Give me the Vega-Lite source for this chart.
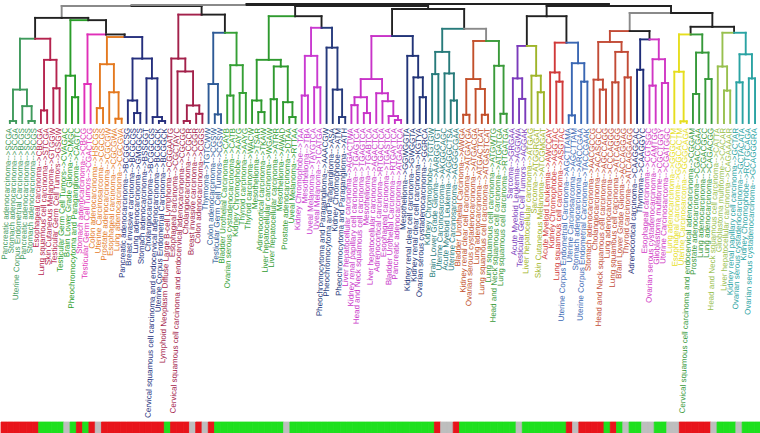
{
  "$schema": "https://vega.github.io/schema/vega-lite/v6.json",
  "background": "white",
  "padding": {"left": 0, "right": 0, "top": 2, "bottom": 0},
  "spacing": 2,
  "config": {"view": {"stroke": null}},
  "resolve": {"scale": {"color": "independent", "x": "independent"}},
  "datasets": {
    "tree": [
      {"id": "L0", "p": "a1", "x": 0, "h": 0, "c": "G1", "t": "Pancreatic adenocarcinoma-->SCGA", "b": "r"},
      {"id": "L1", "p": "a1", "x": 1, "h": 0, "c": "G1", "t": "Stomach adenocarcinoma-->SCGA", "b": "r"},
      {"id": "L2", "p": "a3", "x": 2, "h": 0, "c": "G1", "t": "Uterine Corpus Endometrial Carcinoma-->BCGS", "b": "r"},
      {"id": "L3", "p": "a2", "x": 3, "h": 0, "c": "G1", "t": "Pancreatic adenocarcinoma-->SCGS", "b": "r"},
      {"id": "L4", "p": "a2", "x": 4, "h": 0, "c": "G1", "t": "Stomach adenocarcinoma-->SCGS", "b": "r"},
      {"id": "L5", "p": "c1", "x": 5, "h": 0, "c": "C1", "t": "Esophageal carcinoma-->CBCGA", "b": "r"},
      {"id": "L6", "p": "c1", "x": 6, "h": 0, "c": "C1", "t": "Lung squamous cell carcinoma-->STCGA", "b": "g"},
      {"id": "L7", "p": "c2", "x": 7, "h": 0, "c": "C1", "t": "Skin Cutaneous Melanoma-->GTGGW", "b": "g"},
      {"id": "L8", "p": "c2", "x": 8, "h": 0, "c": "C1", "t": "Testicular Germ Cell Tumors-->GSGW", "b": "g"},
      {"id": "L9", "p": "G2", "x": 9, "h": 0, "c": "G2", "t": "Testicular Germ Cell Tumors-->CVAGAC", "b": "g"},
      {"id": "L10", "p": "g2a", "x": 10, "h": 0, "c": "G2", "t": "Brain Lower Grade Glioma-->CMGC", "b": "n"},
      {"id": "L11", "p": "g2a", "x": 11, "h": 0, "c": "G2", "t": "Pheochromocytoma and Paraganglioma-->CAGTC", "b": "g"},
      {"id": "L12", "p": "M1", "x": 12, "h": 0, "c": "M1", "t": "Stomach adenocarcinoma-->CBCG", "b": "r"},
      {"id": "L13", "p": "M1", "x": 13, "h": 0, "c": "M1", "t": "Testicular Germ Cell Tumors-->CGACTCG", "b": "g"},
      {"id": "L14", "p": "o1", "x": 14, "h": 0, "c": "O1", "t": "Colon adenocarcinoma-->HSCGS", "b": "r"},
      {"id": "L15", "p": "o1", "x": 15, "h": 0, "c": "O1", "t": "Uterine Carcinosarcoma-->CGCGS", "b": "n"},
      {"id": "L16", "p": "o3", "x": 16, "h": 0, "c": "O1", "t": "Prostate adenocarcinoma-->CGCGW", "b": "r"},
      {"id": "L17", "p": "o2", "x": 17, "h": 0, "c": "O1", "t": "Esophageal carcinoma-->CGCGWA", "b": "r"},
      {"id": "L18", "p": "o2", "x": 18, "h": 0, "c": "O1", "t": "Lung adenocarcinoma-->CGCGVA", "b": "r"},
      {"id": "L19", "p": "n2", "x": 19, "h": 0, "c": "N1", "t": "Pancreatic adenocarcinoma-->BCGGCSG", "b": "r"},
      {"id": "L20", "p": "n1", "x": 20, "h": 0, "c": "N1", "t": "Breast invasive carcinoma-->BCGCGS", "b": "r"},
      {"id": "L21", "p": "n1", "x": 21, "h": 0, "c": "N1", "t": "Lung adenocarcinoma-->GMGGCS", "b": "r"},
      {"id": "L22", "p": "n5", "x": 22, "h": 0, "c": "N1", "t": "Stomach adenocarcinoma-->BSSGGT", "b": "r"},
      {"id": "L23", "p": "n4", "x": 23, "h": 0, "c": "N1", "t": "Cholangiocarcinoma-->BCGGCGS", "b": "r"},
      {"id": "L24", "p": "n3", "x": 24, "h": 0, "c": "N1", "t": "Cervical squamous cell carcinoma and endocervical adenocarcinoma-->BCGGCK", "b": "r"},
      {"id": "L25", "p": "n3", "x": 25, "h": 0, "c": "N1", "t": "Uterine Corpus Endometrial Carcinoma-->BCGGCK", "b": "r"},
      {"id": "L26", "p": "C2", "x": 26, "h": 0, "c": "C2", "t": "Lymphoid Neoplasm Diffuse Large B-cell Lymphoma-->CGGAATG", "b": "g"},
      {"id": "L27", "p": "b4", "x": 27, "h": 0, "c": "C2", "t": "Esophageal carcinoma-->CGCTAYC", "b": "r"},
      {"id": "L28", "p": "b1", "x": 28, "h": 0, "c": "C2", "t": "Cervical squamous cell carcinoma and endocervical adenocarcinoma-->CGCGG", "b": "r"},
      {"id": "L29", "p": "b1", "x": 29, "h": 0, "c": "C2", "t": "Cholangiocarcinoma-->CGCR", "b": "r"},
      {"id": "L30", "p": "b2", "x": 30, "h": 0, "c": "C2", "t": "Breast invasive carcinoma-->CGGR", "b": "n"},
      {"id": "L31", "p": "b2", "x": 31, "h": 0, "c": "C2", "t": "Colon adenocarcinoma-->CGGS", "b": "r"},
      {"id": "L32", "p": "S1", "x": 32, "h": 0, "c": "S1", "t": "Thymoma-->TGTCWW", "b": "n"},
      {"id": "L33", "p": "s1", "x": 33, "h": 0, "c": "S1", "t": "Colon adenocarcinoma-->CGSW", "b": "r"},
      {"id": "L34", "p": "s1", "x": 34, "h": 0, "c": "S1", "t": "Testicular Germ Cell Tumors-->CGSW", "b": "g"},
      {"id": "L35", "p": "g3a", "x": 35, "h": 0, "c": "G3", "t": "Bladder Urothelial Carcinoma-->CAYB", "b": "g"},
      {"id": "L36", "p": "g3a", "x": 36, "h": 0, "c": "G3", "t": "Ovarian serous cystadenocarcinoma-->CATB", "b": "g"},
      {"id": "L37", "p": "g3b", "x": 37, "h": 0, "c": "G3", "t": "Kidney Chromophobe-->AAYG", "b": "g"},
      {"id": "L38", "p": "g3b", "x": 38, "h": 0, "c": "G3", "t": "Thyroid carcinoma-->AAYG", "b": "g"},
      {"id": "L39", "p": "g4b", "x": 39, "h": 0, "c": "G4", "t": "Thyroid carcinoma-->WACW", "b": "g"},
      {"id": "L40", "p": "g4a", "x": 40, "h": 0, "c": "G4", "t": "Mesothelioma-->TSAR", "b": "g"},
      {"id": "L41", "p": "g4a", "x": 41, "h": 0, "c": "G4", "t": "Adrenocortical carcinoma-->TKAW", "b": "g"},
      {"id": "L42", "p": "g4c", "x": 42, "h": 0, "c": "G4", "t": "Liver hepatocellular carcinoma-->WGAW", "b": "g"},
      {"id": "L43", "p": "g4c", "x": 43, "h": 0, "c": "G4", "t": "Liver hepatocellular carcinoma-->ATRR", "b": "g"},
      {"id": "L44", "p": "g4e", "x": 44, "h": 0, "c": "G4", "t": "Mesothelioma-->AWAD", "b": "g"},
      {"id": "L45", "p": "g4d", "x": 45, "h": 0, "c": "G4", "t": "Prostate adenocarcinoma-->DTAA", "b": "n"},
      {"id": "L46", "p": "g4d", "x": 46, "h": 0, "c": "G4", "t": "Uveal Melanoma-->RTTAA", "b": "g"},
      {"id": "L47", "p": "m2a", "x": 47, "h": 0, "c": "M2", "t": "Kidney Chromophobe-->TAA", "b": "g"},
      {"id": "L48", "p": "m2a", "x": 48, "h": 0, "c": "M2", "t": "Mesothelioma-->TBA", "b": "g"},
      {"id": "L49", "p": "m2b", "x": 49, "h": 0, "c": "M2", "t": "Uveal Melanoma-->TAYGTCA", "b": "g"},
      {"id": "L50", "p": "m2b", "x": 50, "h": 0, "c": "M2", "t": "Uveal Melanoma-->TCATGA", "b": "g"},
      {"id": "L51", "p": "N2", "x": 51, "h": 0, "c": "N2", "t": "Pheochromocytoma and Paraganglioma-->AAACGW", "b": "g"},
      {"id": "L52", "p": "n2b", "x": 52, "h": 0, "c": "N2", "t": "Pheochromocytoma and Paraganglioma-->ASA", "b": "g"},
      {"id": "L53", "p": "n2a", "x": 53, "h": 0, "c": "N2", "t": "Kidney Chromophobe-->ATM", "b": "g"},
      {"id": "L54", "p": "n2a", "x": 54, "h": 0, "c": "N2", "t": "Pheochromocytoma and Paraganglioma-->ATH", "b": "g"},
      {"id": "L55", "p": "p1", "x": 55, "h": 0, "c": "M3", "t": "Liver hepatocellular carcinoma-->AGACTWA", "b": "g"},
      {"id": "L56", "p": "p1", "x": 56, "h": 0, "c": "M3", "t": "Kidney renal papillary cell carcinoma-->TGAGTCA", "b": "g"},
      {"id": "L57", "p": "p2", "x": 57, "h": 0, "c": "M3", "t": "Head and Neck squamous cell carcinoma-->TGAGTCA", "b": "g"},
      {"id": "L58", "p": "p2", "x": 58, "h": 0, "c": "M3", "t": "Mesothelioma-->TGABTCA", "b": "g"},
      {"id": "L59", "p": "Q", "x": 59, "h": 0, "c": "M3", "t": "Liver hepatocellular carcinoma-->AGACTCA", "b": "g"},
      {"id": "L60", "p": "q3", "x": 60, "h": 0, "c": "M3", "t": "Adrenocortical carcinoma-->RTGACTCA", "b": "g"},
      {"id": "L61", "p": "q2", "x": 61, "h": 0, "c": "M3", "t": "Esophageal carcinoma-->TGASTCA", "b": "g"},
      {"id": "L62", "p": "q1", "x": 62, "h": 0, "c": "M3", "t": "Bladder Urothelial Carcinoma-->RTGAYTCA", "b": "g"},
      {"id": "L63", "p": "q1", "x": 63, "h": 0, "c": "M3", "t": "Pancreatic adenocarcinoma-->ATGASTCA", "b": "g"},
      {"id": "L64", "p": "N3", "x": 64, "h": 0, "c": "N3", "t": "Mesothelioma-->GGWGGTA", "b": "g"},
      {"id": "L65", "p": "n3b", "x": 65, "h": 0, "c": "N3", "t": "Kidney renal clear cell carcinoma-->GWGGTA", "b": "g"},
      {"id": "L66", "p": "n3a", "x": 66, "h": 0, "c": "N3", "t": "Kidney renal clear cell carcinoma-->KGTYA", "b": "g"},
      {"id": "L67", "p": "n3a", "x": 67, "h": 0, "c": "N3", "t": "Ovarian serous cystadenocarcinoma-->GGRCA", "b": "g"},
      {"id": "L68", "p": "t1a", "x": 68, "h": 0, "c": "T1", "t": "Kidney Chromophobe-->TGTGW", "b": "g"},
      {"id": "L69", "p": "t1a", "x": 69, "h": 0, "c": "T1", "t": "Brain Lower Grade Glioma-->AARGGTGT", "b": "r"},
      {"id": "L70", "p": "t1c", "x": 70, "h": 0, "c": "T1", "t": "Uterine Carcinosarcoma-->AKGGCAGC", "b": "n"},
      {"id": "L71", "p": "t1b", "x": 71, "h": 0, "c": "T1", "t": "Acute Myeloid Leukemia-->AGGGCTSA", "b": "n"},
      {"id": "L72", "p": "t1b", "x": 72, "h": 0, "c": "T1", "t": "Uterine Carcinosarcoma-->AGGGCGAA", "b": "r"},
      {"id": "L73", "p": "b1a", "x": 73, "h": 0, "c": "B1", "t": "Bladder Urothelial Carcinoma-->AWGA", "b": "g"},
      {"id": "L74", "p": "b1a", "x": 74, "h": 0, "c": "B1", "t": "Kidney renal clear cell carcinoma-->ATGAYGA", "b": "g"},
      {"id": "L75", "p": "b1c", "x": 75, "h": 0, "c": "B1", "t": "Ovarian serous cystadenocarcinoma-->ATGACGA", "b": "g"},
      {"id": "L76", "p": "b1b", "x": 76, "h": 0, "c": "B1", "t": "Lung adenocarcinoma-->ATGACTCAT", "b": "g"},
      {"id": "L77", "p": "b1b", "x": 77, "h": 0, "c": "B1", "t": "Lung squamous cell carcinoma-->ATGASTCAT", "b": "g"},
      {"id": "L78", "p": "G5", "x": 78, "h": 0, "c": "G5", "t": "Lung squamous cell carcinoma-->ATGWTG", "b": "g"},
      {"id": "L79", "p": "g5a", "x": 79, "h": 0, "c": "G5", "t": "Head and Neck squamous cell carcinoma-->ATGATGA", "b": "g"},
      {"id": "L80", "p": "g5a", "x": 80, "h": 0, "c": "G5", "t": "Lung squamous cell carcinoma-->RTGATGA", "b": "g"},
      {"id": "L81", "p": "P1", "x": 81, "h": 0, "c": "P1", "t": "Sarcoma-->GRGAA", "b": "g"},
      {"id": "L82", "p": "p1a", "x": 82, "h": 0, "c": "P1", "t": "Acute Myeloid Leukemia-->AGGWA", "b": "n"},
      {"id": "L83", "p": "p1a", "x": 83, "h": 0, "c": "P1", "t": "Testicular Germ Cell Tumors-->AGGAK", "b": "g"},
      {"id": "L84", "p": "O2", "x": 84, "h": 0, "c": "O2", "t": "Liver hepatocellular carcinoma-->ATGAG", "b": "g"},
      {"id": "L85", "p": "o2a", "x": 85, "h": 0, "c": "O2", "t": "Sarcoma-->ATGGRGAT", "b": "g"},
      {"id": "L86", "p": "o2a", "x": 86, "h": 0, "c": "O2", "t": "Skin Cutaneous Melanoma-->ATCGMGAT", "b": "g"},
      {"id": "L87", "p": "R1", "x": 87, "h": 0, "c": "R1", "t": "Acute Myeloid Leukemia-->AWCCAY", "b": "g"},
      {"id": "L88", "p": "r1a", "x": 88, "h": 0, "c": "R1", "t": "Kidney Chromophobe-->AGGTAC", "b": "g"},
      {"id": "L89", "p": "r1a", "x": 89, "h": 0, "c": "R1", "t": "Lung squamous cell carcinoma-->ASGTAC", "b": "g"},
      {"id": "L90", "p": "bl1a", "x": 90, "h": 0, "c": "BL1", "t": "Uterine Corpus Endometrial Carcinoma-->AGCTTAMA", "b": "r"},
      {"id": "L91", "p": "bl1a", "x": 91, "h": 0, "c": "BL1", "t": "Uterine Carcinosarcoma-->AGCTTAM", "b": "n"},
      {"id": "L92", "p": "bl1b", "x": 92, "h": 0, "c": "BL1", "t": "Stomach adenocarcinoma-->ARCCGAA", "b": "r"},
      {"id": "L93", "p": "bl1b", "x": 93, "h": 0, "c": "BL1", "t": "Uterine Corpus Endometrial Carcinoma-->TACCGAAK", "b": "r"},
      {"id": "L94", "p": "rb2", "x": 94, "h": 0, "c": "RB1", "t": "Stomach adenocarcinoma-->AACGCCG", "b": "r"},
      {"id": "L95", "p": "rb1", "x": 95, "h": 0, "c": "RB1", "t": "Cholangiocarcinoma-->ACASGCC", "b": "r"},
      {"id": "L96", "p": "rb1", "x": 96, "h": 0, "c": "RB1", "t": "Head and Neck squamous cell carcinoma-->AGCCAGG", "b": "g"},
      {"id": "L97", "p": "rb3", "x": 97, "h": 0, "c": "RB1", "t": "Lung adenocarcinoma-->CCCAGGG", "b": "r"},
      {"id": "L98", "p": "rb3", "x": 98, "h": 0, "c": "RB1", "t": "Lung squamous cell carcinoma-->ATCAGGG", "b": "g"},
      {"id": "L99", "p": "rb4", "x": 99, "h": 0, "c": "RB1", "t": "Brain Lower Grade Glioma-->ACCAGGAG", "b": "n"},
      {"id": "L100", "p": "rb4", "x": 100, "h": 0, "c": "RB1", "t": "Thyroid carcinoma-->ATCAGGAGG", "b": "g"},
      {"id": "L101", "p": "N4", "x": 101, "h": 0, "c": "N4", "t": "Adrenocortical carcinoma-->CAAGGCAC", "b": "g"},
      {"id": "L102", "p": "N4", "x": 102, "h": 0, "c": "N4", "t": "Thymoma-->CAAGGYC", "b": "n"},
      {"id": "L103", "p": "m4a", "x": 103, "h": 0, "c": "M4", "t": "Esophageal carcinoma-->CGTSGC", "b": "n"},
      {"id": "L104", "p": "m4a", "x": 104, "h": 0, "c": "M4", "t": "Ovarian serous cystadenocarcinoma-->CAMTGG", "b": "g"},
      {"id": "L105", "p": "m4b", "x": 105, "h": 0, "c": "M4", "t": "Glioblastoma multiforme-->CGCTGGY", "b": "g"},
      {"id": "L106", "p": "m4b", "x": 106, "h": 0, "c": "M4", "t": "Uterine Carcinosarcoma-->CGATGGC", "b": "n"},
      {"id": "L107", "p": "Y1", "x": 107, "h": 0, "c": "Y1", "t": "Lung adenocarcinoma-->GGGCTM", "b": "n"},
      {"id": "L108", "p": "y1a", "x": 108, "h": 0, "c": "Y1", "t": "Esophageal carcinoma-->GGGCACTM", "b": "r"},
      {"id": "L109", "p": "y1a", "x": 109, "h": 0, "c": "Y1", "t": "Uterine Carcinosarcoma-->GGGCAGA", "b": "r"},
      {"id": "L110", "p": "g6a", "x": 110, "h": 0, "c": "G6", "t": "Cervical squamous cell carcinoma and endocervical adenocarcinoma-->CGGAM", "b": "r"},
      {"id": "L111", "p": "g6a", "x": 111, "h": 0, "c": "G6", "t": "Prostate adenocarcinoma-->CGACCGAA", "b": "r"},
      {"id": "L112", "p": "g6b", "x": 112, "h": 0, "c": "G6", "t": "Lung adenocarcinoma-->CGACGCC", "b": "r"},
      {"id": "L113", "p": "g6b", "x": 113, "h": 0, "c": "G6", "t": "Lung adenocarcinoma-->CAGACGG", "b": "n"},
      {"id": "L114", "p": "O3", "x": 114, "h": 0, "c": "O3", "t": "Head and Neck squamous cell carcinoma-->CATTA", "b": "g"},
      {"id": "L115", "p": "o3a", "x": 115, "h": 0, "c": "O3", "t": "Glioblastoma multiforme-->CACAR", "b": "g"},
      {"id": "L116", "p": "o3a", "x": 116, "h": 0, "c": "O3", "t": "Liver hepatocellular carcinoma-->CAGAAAAR", "b": "g"},
      {"id": "L117", "p": "t2a", "x": 117, "h": 0, "c": "T2", "t": "Kidney renal papillary cell carcinoma-->GCTAR", "b": "n"},
      {"id": "L118", "p": "t2a", "x": 118, "h": 0, "c": "T2", "t": "Ovarian serous cystadenocarcinoma-->GCTACATA", "b": "g"},
      {"id": "L119", "p": "t2b", "x": 119, "h": 0, "c": "T2", "t": "Kidney Chromophobe-->RCTGCAGA", "b": "g"},
      {"id": "L120", "p": "t2b", "x": 120, "h": 0, "c": "T2", "t": "Ovarian serous cystadenocarcinoma-->GCAGGGRA", "b": "g"},

      {"id": "a1", "p": "G1", "x": 0.5, "h": 2, "c": "G1"},
      {"id": "a2", "p": "a3", "x": 3.5, "h": 2, "c": "G1"},
      {"id": "a3", "p": "G1", "x": 2.75, "h": 17, "c": "G1"},
      {"id": "G1", "p": "GC", "x": 1.625, "h": 33.7, "c": "G1"},
      {"id": "c1", "p": "C1", "x": 5.5, "h": 12.7, "c": "C1"},
      {"id": "c2", "p": "C1", "x": 7.5, "h": 35, "c": "C1"},
      {"id": "C1", "p": "GC", "x": 6.5, "h": 63.7, "c": "C1"},
      {"id": "GC", "p": "A", "x": 4.0625, "h": 85, "c": "K"},
      {"id": "g2a", "p": "G2", "x": 10.5, "h": 26, "c": "G2"},
      {"id": "G2", "p": "GMON", "x": 9.75, "h": 47.7, "c": "G2"},
      {"id": "M1", "p": "MON", "x": 12.5, "h": 39.3, "c": "M1"},
      {"id": "o1", "p": "O1", "x": 14.5, "h": 15, "c": "O1"},
      {"id": "o2", "p": "o3", "x": 17.5, "h": 4.3, "c": "O1"},
      {"id": "o3", "p": "O1", "x": 16.75, "h": 31, "c": "O1"},
      {"id": "O1", "p": "ON", "x": 15.625, "h": 59.3, "c": "O1"},
      {"id": "n1", "p": "n2", "x": 20.5, "h": 10, "c": "N1"},
      {"id": "n2", "p": "N1", "x": 19.75, "h": 22.7, "c": "N1"},
      {"id": "n3", "p": "n4", "x": 24.5, "h": 2, "c": "N1"},
      {"id": "n4", "p": "n5", "x": 23.75, "h": 6, "c": "N1"},
      {"id": "n5", "p": "N1", "x": 22.875, "h": 45, "c": "N1"},
      {"id": "N1", "p": "ON", "x": 21.3125, "h": 65, "c": "N1"},
      {"id": "ON", "p": "MON", "x": 18.469, "h": 86.7, "c": "K"},
      {"id": "MON", "p": "GMON", "x": 15.484, "h": 89.3, "c": "K"},
      {"id": "GMON", "p": "A", "x": 12.617, "h": 103.7, "c": "K"},
      {"id": "A", "p": "AB", "x": 8.34, "h": 106, "c": "Y"},
      {"id": "b1", "p": "b3", "x": 28.5, "h": 2, "c": "C2"},
      {"id": "b2", "p": "b3", "x": 30.5, "h": 9.3, "c": "C2"},
      {"id": "b3", "p": "b4", "x": 29.5, "h": 17.7, "c": "C2"},
      {"id": "b4", "p": "C2", "x": 28.25, "h": 52, "c": "C2"},
      {"id": "C2", "p": "B", "x": 27.125, "h": 65, "c": "C2"},
      {"id": "s1", "p": "S1", "x": 33.5, "h": 8.7, "c": "S1"},
      {"id": "S1", "p": "SG", "x": 32.75, "h": 39.3, "c": "S1"},
      {"id": "g3a", "p": "G3", "x": 35.5, "h": 27.7, "c": "G3"},
      {"id": "g3b", "p": "G3", "x": 37.5, "h": 30.3, "c": "G3"},
      {"id": "G3", "p": "SG", "x": 36.5, "h": 58.3, "c": "G3"},
      {"id": "SG", "p": "B", "x": 34.625, "h": 91, "c": "K"},
      {"id": "B", "p": "AB", "x": 30.875, "h": 109.3, "c": "K"},
      {"id": "g4a", "p": "g4b", "x": 40.5, "h": 11, "c": "G4"},
      {"id": "g4b", "p": "G4", "x": 39.75, "h": 22.7, "c": "G4"},
      {"id": "g4c", "p": "g4f", "x": 42.5, "h": 24, "c": "G4"},
      {"id": "g4d", "p": "g4e", "x": 45.5, "h": 6, "c": "G4"},
      {"id": "g4e", "p": "g4f", "x": 44.75, "h": 21, "c": "G4"},
      {"id": "g4f", "p": "G4", "x": 43.625, "h": 57, "c": "G4"},
      {"id": "G4", "p": "C", "x": 41.6875, "h": 63.7, "c": "G4"},
      {"id": "m2a", "p": "M2", "x": 47.5, "h": 27.7, "c": "M2"},
      {"id": "m2b", "p": "M2", "x": 49.5, "h": 36, "c": "M2"},
      {"id": "M2", "p": "MN2", "x": 48.5, "h": 67.7, "c": "M2"},
      {"id": "n2a", "p": "n2b", "x": 53.5, "h": 6, "c": "N2"},
      {"id": "n2b", "p": "N2", "x": 52.75, "h": 33.7, "c": "N2"},
      {"id": "N2", "p": "MN2", "x": 51.875, "h": 76, "c": "N2"},
      {"id": "MN2", "p": "C", "x": 50.1875, "h": 96, "c": "K"},
      {"id": "C", "p": "CD", "x": 45.9375, "h": 107.7, "c": "K"},
      {"id": "p1", "p": "P", "x": 55.5, "h": 18, "c": "M3"},
      {"id": "p2", "p": "P", "x": 57.5, "h": 10, "c": "M3"},
      {"id": "P", "p": "M3", "x": 56.5, "h": 26, "c": "M3"},
      {"id": "q1", "p": "q2", "x": 62.5, "h": 3, "c": "M3"},
      {"id": "q2", "p": "q3", "x": 61.75, "h": 7, "c": "M3"},
      {"id": "q3", "p": "Q", "x": 60.875, "h": 22, "c": "M3"},
      {"id": "Q", "p": "M3", "x": 59.9375, "h": 30, "c": "M3"},
      {"id": "M3", "p": "MN3", "x": 58.219, "h": 44.3, "c": "M3"},
      {"id": "n3a", "p": "n3b", "x": 66.5, "h": 26, "c": "N3"},
      {"id": "n3b", "p": "N3", "x": 65.75, "h": 46, "c": "N3"},
      {"id": "N3", "p": "MN3", "x": 64.875, "h": 67.7, "c": "N3"},
      {"id": "MN3", "p": "D", "x": 61.547, "h": 87.7, "c": "K"},
      {"id": "t1a", "p": "T1", "x": 68.5, "h": 49.3, "c": "T1"},
      {"id": "t1b", "p": "t1c", "x": 71.5, "h": 22.7, "c": "T1"},
      {"id": "t1c", "p": "T1", "x": 70.75, "h": 50, "c": "T1"},
      {"id": "T1", "p": "TBG", "x": 69.625, "h": 71.7, "c": "T1"},
      {"id": "b1a", "p": "B1", "x": 73.5, "h": 8.3, "c": "B1"},
      {"id": "b1b", "p": "b1c", "x": 76.5, "h": 8.3, "c": "B1"},
      {"id": "b1c", "p": "B1", "x": 75.75, "h": 34.3, "c": "B1"},
      {"id": "B1", "p": "BG", "x": 74.625, "h": 44.3, "c": "B1"},
      {"id": "g5a", "p": "G5", "x": 79.5, "h": 9.3, "c": "G5"},
      {"id": "G5", "p": "BG", "x": 78.75, "h": 57.7, "c": "G5"},
      {"id": "BG", "p": "TBG", "x": 76.6875, "h": 82.7, "c": "Y"},
      {"id": "TBG", "p": "D", "x": 73.156, "h": 95, "c": "K"},
      {"id": "D", "p": "CD", "x": 67.352, "h": 115, "c": "K"},
      {"id": "p1a", "p": "P1", "x": 82.5, "h": 24.3, "c": "P1"},
      {"id": "P1", "p": "PO", "x": 81.75, "h": 45, "c": "P1"},
      {"id": "o2a", "p": "O2", "x": 85.5, "h": 31, "c": "O2"},
      {"id": "O2", "p": "PO", "x": 84.75, "h": 47.7, "c": "O2"},
      {"id": "PO", "p": "E", "x": 83.25, "h": 77.7, "c": "K"},
      {"id": "r1a", "p": "R1", "x": 88.5, "h": 41.7, "c": "R1"},
      {"id": "R1", "p": "RB", "x": 87.75, "h": 51, "c": "R1"},
      {"id": "bl1a", "p": "BL1", "x": 90.5, "h": 7.7, "c": "BL1"},
      {"id": "bl1b", "p": "BL1", "x": 92.5, "h": 41.7, "c": "BL1"},
      {"id": "BL1", "p": "RB", "x": 91.5, "h": 60.3, "c": "BL1"},
      {"id": "RB", "p": "E", "x": 89.625, "h": 81, "c": "K"},
      {"id": "E", "p": "EF", "x": 86.4375, "h": 107.7, "c": "K"},
      {"id": "rb1", "p": "rb2", "x": 95.5, "h": 33.7, "c": "RB1"},
      {"id": "rb2", "p": "RB1", "x": 94.75, "h": 43.7, "c": "RB1"},
      {"id": "rb3", "p": "rb5", "x": 97.5, "h": 41, "c": "RB1"},
      {"id": "rb4", "p": "rb5", "x": 99.5, "h": 46, "c": "RB1"},
      {"id": "rb5", "p": "RB1", "x": 98.5, "h": 71.7, "c": "RB1"},
      {"id": "RB1", "p": "F1", "x": 96.625, "h": 81.7, "c": "RB1"},
      {"id": "N4", "p": "NM4", "x": 101.5, "h": 53.7, "c": "N4"},
      {"id": "m4a", "p": "M4", "x": 103.5, "h": 37.7, "c": "M4"},
      {"id": "m4b", "p": "M4", "x": 105.5, "h": 40.3, "c": "M4"},
      {"id": "M4", "p": "NM4", "x": 104.5, "h": 64.3, "c": "M4"},
      {"id": "NM4", "p": "F1", "x": 103, "h": 84.3, "c": "K"},
      {"id": "F1", "p": "F", "x": 99.8125, "h": 92.7, "c": "Y"},
      {"id": "y1a", "p": "Y1", "x": 108.5, "h": 1.7, "c": "Y1"},
      {"id": "Y1", "p": "YG", "x": 107.75, "h": 51.7, "c": "Y1"},
      {"id": "g6a", "p": "G6", "x": 110.5, "h": 29.3, "c": "G6"},
      {"id": "g6b", "p": "G6", "x": 112.5, "h": 44.3, "c": "G6"},
      {"id": "G6", "p": "YG", "x": 111.5, "h": 71, "c": "G6"},
      {"id": "YG", "p": "F2", "x": 109.625, "h": 89.3, "c": "K"},
      {"id": "o3a", "p": "O3", "x": 115.5, "h": 32.7, "c": "O3"},
      {"id": "O3", "p": "OT", "x": 114.75, "h": 57, "c": "O3"},
      {"id": "t2a", "p": "T2", "x": 117.5, "h": 41, "c": "T2"},
      {"id": "t2b", "p": "T2", "x": 119.5, "h": 45, "c": "T2"},
      {"id": "T2", "p": "OT", "x": 118.5, "h": 69.3, "c": "T2"},
      {"id": "OT", "p": "F2", "x": 116.625, "h": 91, "c": "K"},
      {"id": "F2", "p": "F", "x": 113.125, "h": 97, "c": "K"},
      {"id": "F", "p": "EF", "x": 106.469, "h": 111, "c": "K"},
      {"id": "AB", "p": "ABCD", "x": 19.6075, "h": 118, "c": "Y"},
      {"id": "CD", "p": "ABCD", "x": 56.6445, "h": 118, "c": "K"},
      {"id": "EF", "p": "ROOT", "x": 96.453, "h": 118, "c": "K"},
      {"id": "ABCD", "p": "ROOT", "x": 38.126, "h": 119, "c": "K"},
      {"id": "ROOT", "p": null, "x": 67.29, "h": 120, "c": "K"}
    ]
  },
  "vconcat": [
    {
      "width": 760,
      "height": 119,
      "data": {"name": "tree"},
      "transform": [
        {"lookup": "p", "from": {"data": {"name": "tree"}, "key": "id", "fields": ["x", "h"]}, "as": ["px", "ph"]}
      ],
      "encoding": {
        "x": {"field": "x", "type": "quantitative", "scale": {"domain": [-1.43, 120.96], "nice": false, "zero": false}, "axis": null},
        "color": {
          "field": "c", "type": "nominal", "legend": null,
          "scale": {
            "domain": ["G1","C1","G2","M1","O1","N1","C2","S1","G3","G4","M2","N2","M3","N3","T1","B1","G5","P1","O2","R1","BL1","RB1","N4","M4","Y1","G6","O3","T2","K","Y"],
            "range": ["#3f9a5c","#b5234e","#2a9d2a","#e02fb8","#e4791f","#252f7d","#a3214b","#2e5a96","#35a035","#2f9a2f","#c93ad0","#263a7c","#c833c8","#223478","#287b7b","#c2502b","#3a9a3a","#7b3bbb","#9fb52a","#d03a3a","#3a67b3","#c24b36","#1f2d78","#d036c4","#e6de1e","#36993a","#98c04e","#2aa3a3","#222222","#8a8a8a"]
          }
        }
      },
      "layer": [
        {
          "transform": [{"filter": "isValid(datum.ph)"}],
          "mark": {"type": "rule", "strokeWidth": 1.9, "strokeCap": "square"},
          "encoding": {
            "y": {"field": "h", "type": "quantitative", "scale": {"domain": [0, 120], "nice": false, "zero": false}, "axis": null},
            "y2": {"field": "ph"}
          }
        },
        {
          "transform": [{"filter": "isValid(datum.ph)"}],
          "mark": {"type": "rule", "strokeWidth": 1.9, "strokeCap": "square"},
          "encoding": {
            "y": {"field": "ph", "type": "quantitative", "axis": null},
            "x2": {"field": "px"}
          }
        },
        {
          "transform": [{"filter": "datum.h === 0"}],
          "mark": {"type": "text", "angle": 272, "align": "right", "baseline": "middle", "dx": -5, "fontSize": 8, "font": "Liberation Sans"},
          "encoding": {
            "y": {"field": "h", "type": "quantitative", "axis": null},
            "text": {"field": "t"}
          }
        }
      ]
    },
    {
      "width": 760,
      "height": 11,
      "data": {"name": "tree"},
      "transform": [{"filter": "datum.h === 0"}],
      "view": {"stroke": "#444444", "strokeWidth": 1},
      "mark": {"type": "rect", "strokeWidth": 0.8},
      "encoding": {
        "x": {"field": "x", "type": "ordinal", "scale": {"paddingInner": 0, "paddingOuter": 0}, "axis": null},
        "color": {"field": "b", "type": "nominal", "legend": null, "scale": {"domain": ["r", "g", "n"], "range": ["#e8141b", "#1ee01e", "#bebebe"]}},
        "stroke": {"field": "b", "type": "nominal", "legend": null, "scale": {"domain": ["r", "g", "n"], "range": ["#e8141b", "#1ee01e", "#bebebe"]}}
      }
    }
  ]
}
